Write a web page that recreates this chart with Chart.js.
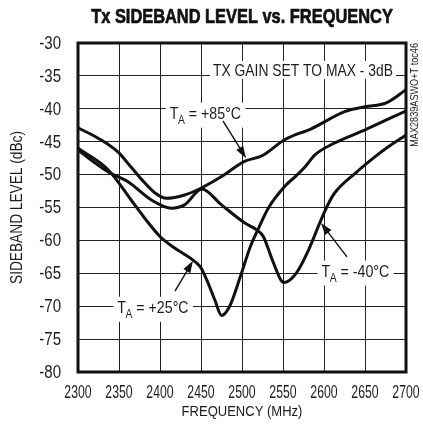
<!DOCTYPE html>
<html>
<head>
<meta charset="utf-8">
<script src="https://cdn.jsdelivr.net/npm/chart.js@4.4.1/dist/chart.umd.min.js"></script>
<style>
html,body{margin:0;padding:0;background:#fff;overflow:hidden;}
#wrap{width:423px;height:435px;position:relative;}
</style>
</head>
<body>
<div id="wrap"><canvas id="c" width="423" height="435"></canvas></div>
<script>
// ---- text ----
const TITLE = 'Tx SIDEBAND LEVEL vs. FREQUENCY';
const X_TITLE = 'FREQUENCY (MHz)';
const Y_TITLE = 'SIDEBAND LEVEL (dBc)';
const SIDE_NOTE = 'MAX2839ASWO+T toc46';
const NOTE_TEXT = 'TX GAIN SET TO MAX - 3dB';
const SERIES_NAMES = ['+85°C', '+25°C', '-40°C'];

// ---- axes ----
const X_MIN = 2300, X_MAX = 2700, X_STEP = 50;
const Y_MIN = -80, Y_MAX = -30, Y_STEP = 5;
const xTickLabels = ['2300', '2350', '2400', '2450', '2500', '2550', '2600', '2650', '2700'];
const yTickLabels = ['-30', '-35', '-40', '-45', '-50', '-55', '-60', '-65', '-70', '-75', '-80'];

// ---- series (frequency in MHz, level in dBc) ----
const freq85  = [2300, 2325, 2349, 2361, 2378, 2394, 2408, 2430, 2451, 2475, 2503, 2525, 2552, 2585, 2626, 2650, 2676, 2700];
const level85 = [-42.9, -44.5, -46.6, -48.3, -50.8, -52.8, -53.6, -53.1, -52.0, -50.3, -48.0, -47.1, -44.7, -43.0, -40.4, -39.7, -39.1, -37.1];

const freq25  = [2300, 2337, 2365, 2380, 2400, 2416, 2437, 2449, 2457, 2467, 2475, 2485, 2498, 2510, 2520, 2532, 2552, 2565, 2577, 2589, 2613, 2650, 2700];
const level25 = [-46.0, -49.3, -53.9, -56.4, -59.4, -61.0, -62.7, -64.0, -66.0, -69.1, -71.4, -70.0, -65.5, -61.0, -58.2, -55.1, -51.8, -50.3, -48.8, -47.0, -45.2, -43.2, -40.3];

const freq40  = [2300, 2337, 2361, 2390, 2414, 2430, 2451, 2475, 2504, 2518, 2526, 2538, 2551, 2566, 2581, 2596, 2605, 2613, 2638, 2662, 2678, 2700];
const level40 = [-46.3, -49.6, -51.1, -53.9, -55.1, -54.6, -52.2, -54.6, -57.4, -58.4, -59.4, -63.3, -66.4, -65.0, -61.5, -57.0, -54.5, -52.8, -49.8, -47.3, -45.8, -44.0];

// ---- annotation anchors (data coordinates) ----
const labelAnchors = [
  {name: SERIES_NAMES[0], x: 2412, y: -41.5},
  {name: SERIES_NAMES[1], x: 2348, y: -71.0},
  {name: SERIES_NAMES[2], x: 2597, y: -65.5}
];
const arrows = [
  {x1: 2476.8, y1: -41.85, x2: 2504.9, y2: -47.5},
  {x1: 2418.3, y1: -67.7,  x2: 2440.2, y2: -63.1},
  {x1: 2628.0, y1: -62.5,  x2: 2596.3, y2: -57.35}
];
const noteAnchor = {x: 2464.6, y: -35.0};

const FONT = "'Liberation Sans', Arial, sans-serif";
const TXT = '#1c1c1c';

function pts(xs, ys) { return xs.map((x, i) => ({x: x, y: ys[i]})); }

// draw horizontally condensed text
function ctext(ctx, s, x, y, size, sx, align, baseline, bold, rot, heavy) {
  ctx.save();
  ctx.translate(x, y);
  if (rot) ctx.rotate(rot);
  ctx.scale(sx, 1);
  ctx.font = (bold ? 'bold ' : '') + size + 'px ' + FONT;
  ctx.textAlign = align;
  ctx.textBaseline = baseline;
  ctx.fillText(s, 0, 0);
  if (heavy) {
    ctx.strokeStyle = ctx.fillStyle;
    ctx.lineWidth = heavy;
    ctx.lineJoin = 'round';
    ctx.strokeText(s, 0, 0);
  }
  ctx.restore();
}
function cwidth(ctx, s, size, sx, bold) {
  ctx.save();
  ctx.font = (bold ? 'bold ' : '') + size + 'px ' + FONT;
  const w = ctx.measureText(s).width * sx;
  ctx.restore();
  return w;
}

const lineStyle = {
  borderColor: '#111', borderWidth: 3, pointRadius: 0, pointHoverRadius: 0,
  fill: false, cubicInterpolationMode: 'monotone'
};

const LBL_SIZE = 16.5, LBL_SX = 0.86, SUB_SIZE = 12;

const decor = {
  id: 'decor',
  beforeDatasetsDraw(chart) {
    const ctx = chart.ctx, xs = chart.scales.x, ys = chart.scales.y;
    ctx.save();
    ctx.fillStyle = TXT;
    // note text with white box
    const nx = xs.getPixelForValue(noteAnchor.x), ny = ys.getPixelForValue(noteAnchor.y);
    const nw = cwidth(ctx, NOTE_TEXT, LBL_SIZE, 0.84);
    ctx.fillStyle = '#fff';
    ctx.fillRect(nx - 3, ny - 15, nw + 6, 18);
    ctx.fillStyle = TXT;
    ctext(ctx, NOTE_TEXT, nx, ny, LBL_SIZE, 0.84, 'left', 'alphabetic');

    // series labels  T_A = ...
    labelAnchors.forEach(l => {
      const px = xs.getPixelForValue(l.x), py = ys.getPixelForValue(l.y);
      const wT = cwidth(ctx, 'T', LBL_SIZE, LBL_SX);
      const wA = cwidth(ctx, 'A', SUB_SIZE, LBL_SX);
      const rest = ' = ' + l.name;
      const wR = cwidth(ctx, rest, LBL_SIZE, LBL_SX);
      const total = wT + wA + wR;
      ctx.fillStyle = '#fff';
      ctx.fillRect(px - 4, py - 16, total + 8, 25);
      ctx.fillStyle = TXT;
      ctext(ctx, 'T', px, py, LBL_SIZE, LBL_SX, 'left', 'alphabetic');
      ctext(ctx, 'A', px + wT - 0.5, py + 5, SUB_SIZE, LBL_SX, 'left', 'alphabetic');
      ctext(ctx, rest, px + wT + wA - 0.5, py, LBL_SIZE, LBL_SX, 'left', 'alphabetic');
    });

    // arrows
    arrows.forEach(a => {
      const x1 = xs.getPixelForValue(a.x1), y1 = ys.getPixelForValue(a.y1);
      const x2 = xs.getPixelForValue(a.x2), y2 = ys.getPixelForValue(a.y2);
      const ang = Math.atan2(y2 - y1, x2 - x1);
      const hl = 12, hw = 4;
      ctx.strokeStyle = '#111';
      ctx.lineWidth = 1.4;
      ctx.beginPath();
      ctx.moveTo(x1, y1);
      ctx.lineTo(x2 - Math.cos(ang) * hl * 0.8, y2 - Math.sin(ang) * hl * 0.8);
      ctx.stroke();
      ctx.fillStyle = '#111';
      ctx.beginPath();
      ctx.moveTo(x2, y2);
      ctx.lineTo(x2 - Math.cos(ang) * hl - Math.sin(ang) * hw, y2 - Math.sin(ang) * hl + Math.cos(ang) * hw);
      ctx.lineTo(x2 - Math.cos(ang) * hl + Math.sin(ang) * hw, y2 - Math.sin(ang) * hl - Math.cos(ang) * hw);
      ctx.closePath();
      ctx.fill();
    });
    ctx.restore();
  },
  afterDatasetsDraw(chart) {
    const ctx = chart.ctx, a = chart.chartArea;
    ctx.save();
    ctx.strokeStyle = '#111';
    ctx.lineWidth = 3;
    ctx.strokeRect(a.left, a.top, a.right - a.left, a.bottom - a.top);
    ctx.restore();
  },
  afterDraw(chart) {
    const ctx = chart.ctx, a = chart.chartArea, xs = chart.scales.x, ys = chart.scales.y;
    ctx.save();
    ctx.fillStyle = TXT;
    // tick labels, positioned by the library's scales
    xTickLabels.forEach(t => {
      ctext(ctx, t, xs.getPixelForValue(Number(t)), a.bottom + 21, 17.5, 0.70, 'center', 'middle');
    });
    yTickLabels.forEach(t => {
      ctext(ctx, t, a.left - 17, ys.getPixelForValue(Number(t)) + 1, 17.5, 0.86, 'right', 'middle');
    });
    // axis titles
    ctext(ctx, X_TITLE, (a.left + a.right) / 2, a.bottom + 40, 15.5, 0.84, 'center', 'middle');
    ctext(ctx, Y_TITLE, 17, (a.top + a.bottom) / 2, 16.5, 0.83, 'center', 'middle', false, -Math.PI / 2);
    // main title
    ctx.fillStyle = '#111';
    ctext(ctx, TITLE, (a.left + a.right) / 2, 17, 20.5, 0.80, 'center', 'middle', true, 0, 0.7);
    // side note
    ctx.fillStyle = TXT;
    ctext(ctx, SIDE_NOTE, a.right + 9, a.top, 11, 0.83, 'right', 'middle', false, -Math.PI / 2);
    ctx.restore();
  }
};

new Chart(document.getElementById('c'), {
  type: 'line',
  data: {
    datasets: [
      Object.assign({label: SERIES_NAMES[0], data: pts(freq85, level85)}, lineStyle),
      Object.assign({label: SERIES_NAMES[1], data: pts(freq25, level25)}, lineStyle),
      Object.assign({label: SERIES_NAMES[2], data: pts(freq40, level40)}, lineStyle)
    ]
  },
  options: {
    responsive: false,
    animation: false,
    events: [],
    layout: {padding: {top: 43, right: 17, left: 0, bottom: 0}},
    plugins: {legend: {display: false}, tooltip: {enabled: false}, title: {display: false}},
    scales: {
      x: {
        type: 'linear', min: X_MIN, max: X_MAX,
        afterFit(s) { s.height = 63; s.paddingLeft = 0; s.paddingRight = 0; },
        ticks: {stepSize: X_STEP, display: false},
        grid: {color: '#222', lineWidth: 1, drawTicks: false},
        border: {display: false}
      },
      y: {
        type: 'linear', min: Y_MIN, max: Y_MAX,
        afterFit(s) { s.width = 78; s.paddingTop = 0; s.paddingBottom = 0; },
        ticks: {stepSize: Y_STEP, display: false},
        grid: {color: '#222', lineWidth: 1, drawTicks: false},
        border: {display: false}
      }
    }
  },
  plugins: [decor]
});
</script>
</body>
</html>
